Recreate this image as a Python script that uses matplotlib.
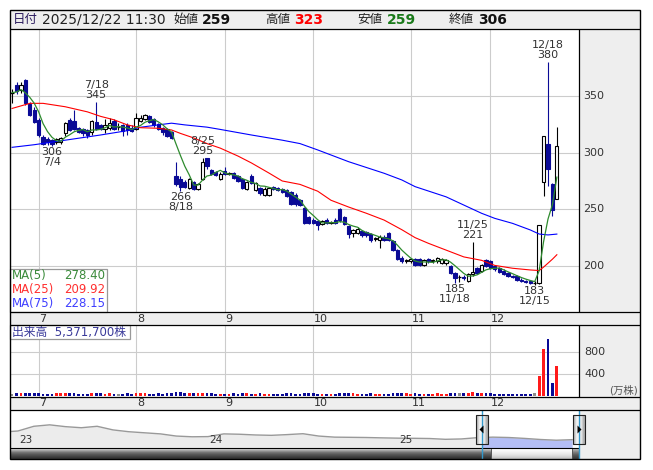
#!/usr/bin/env python3
"""Daily candlestick chart with moving averages, volume and navigator."""

import matplotlib

matplotlib.use("Agg")
import matplotlib.pyplot as plt
from matplotlib.patches import Rectangle, Polygon
from matplotlib.transforms import blended_transform_factory
import numpy as np
import pandas as pd

plt.rcParams["font.family"] = ["DejaVu Sans", "Noto Sans CJK JP"]

W, H = 653, 470

# --- data -------------------------------------------------------------------
START, END = "2025-06-23", "2025-12-22"
HOLIDAYS = ["2025-07-21", "2025-08-11", "2025-09-15", "2025-09-23",
            "2025-10-13", "2025-11-03", "2025-11-24"]

OPEN = [353, 360, 355, 364, 343, 338, 329, 314, 312, 311, 309, 309, 317, 329, 328, 322, 321, 320, 318, 327,
        324, 321, 322, 328, 323, 324, 324, 322, 321, 328, 330, 332, 330, 325, 322, 321, 318, 279, 277, 274,
        269, 274, 268, 277, 295, 285, 283, 277, 284, 281, 282, 279, 277, 268, 279, 267, 269, 263, 263, 270,
        269, 268, 267, 265, 263, 258, 251, 243, 241, 240, 237, 241, 238, 241, 250, 243, 235, 229, 229, 231,
        230, 228, 224, 223, 226, 229, 222, 214, 207, 204, 204, 206, 206, 201, 206, 204, 204, 203, 203, 200,
        194, 190, 190, 187, 193, 198, 196, 205, 204, 200, 198, 196, 194, 191, 191, 188, 187, 187, 185, 185,
        274, 308, 272, 259]
HIGH = [356, 362, 362, 365, 345, 340, 331, 316, 314, 312, 313, 314, 327, 331, 338, 323, 322, 321, 329, 345,
        325, 330, 331, 330, 326, 325, 326, 324, 335, 333, 334, 333, 331, 326, 323, 322, 319, 292, 279, 276,
        278, 275, 273, 295, 295, 286, 284, 283, 287, 283, 283, 280, 278, 275, 281, 274, 270, 270, 270, 271,
        270, 269, 268, 266, 264, 259, 252, 244, 242, 241, 241, 242, 240, 242, 251, 244, 236, 233, 234, 232,
        231, 229, 226, 227, 227, 230, 223, 215, 209, 206, 207, 207, 207, 206, 207, 206, 208, 207, 206, 201,
        195, 192, 192, 194, 221, 199, 202, 206, 205, 201, 199, 197, 195, 192, 192, 189, 188, 188, 187, 236,
        315, 380, 273, 323]
LOW = [344, 352, 353, 342, 332, 326, 314, 307, 307, 306, 308, 308, 315, 319, 320, 317, 315, 313, 316, 320,
       320, 317, 320, 320, 320, 315, 316, 318, 320, 327, 329, 326, 323, 320, 316, 314, 312, 271, 266, 269,
       268, 267, 267, 276, 286, 280, 279, 276, 280, 280, 277, 274, 268, 267, 272, 266, 263, 262, 262, 267,
       266, 264, 261, 254, 253, 253, 237, 237, 237, 232, 236, 237, 237, 237, 239, 236, 225, 226, 228, 226,
       226, 221, 222, 216, 222, 222, 213, 205, 203, 203, 203, 200, 200, 200, 203, 203, 203, 202, 201, 193,
       185, 186, 188, 186, 191, 193, 195, 199, 197, 196, 194, 192, 190, 189, 187, 186, 185, 184, 183, 184,
       262, 271, 244, 259]
CLOSE = [353, 354, 360, 344, 333, 327, 316, 308, 309, 308, 312, 313, 326, 320, 321, 318, 317, 316, 328, 321,
         321, 324, 326, 321, 323, 319, 320, 319, 331, 331, 333, 327, 324, 321, 318, 315, 313, 272, 270, 270,
         277, 268, 272, 292, 288, 281, 280, 281, 281, 282, 278, 275, 269, 274, 273, 273, 264, 268, 269, 268,
         267, 265, 262, 255, 255, 254, 238, 238, 238, 236, 240, 238, 239, 238, 241, 237, 228, 232, 233, 227,
         227, 223, 225, 226, 223, 223, 214, 206, 204, 205, 206, 201, 201, 205, 204, 205, 207, 206, 205, 194,
         189, 190, 189, 193, 195, 194, 201, 200, 198, 197, 195, 193, 191, 190, 188, 187, 186, 185, 185, 236,
         315, 286, 249, 306]
# volume in 万株 (10,000 shares)
VOLUME = [45, 52, 48, 55, 50, 47, 46, 44, 43, 45, 47, 46, 52, 48, 50, 45, 44, 43, 49, 55,
          46, 45, 47, 44, 43, 45, 46, 44, 50, 47, 46, 45, 44, 46, 45, 47, 48, 78, 72, 55,
          50, 48, 46, 60, 52, 46, 45, 44, 45, 44, 46, 45, 47, 46, 45, 44, 46, 45, 44, 45,
          43, 44, 46, 47, 45, 44, 50, 48, 46, 45, 44, 45, 44, 45, 52, 47, 50, 46, 45, 44,
          45, 46, 44, 45, 44, 45, 47, 50, 48, 46, 45, 46, 44, 45, 44, 45, 46, 44, 45, 50,
          55, 47, 46, 52, 78, 48, 47, 49, 46, 45, 44, 45, 44, 43, 44, 45, 44, 45, 50, 368,
          863, 1034, 240, 537.17]

MA25_DATES = ["06-23", "06-27", "07-02", "07-09", "07-16", "07-22", "07-25", "07-30", "08-04", "08-08",
              "08-14", "08-18", "08-21", "08-26", "08-29", "09-04", "09-09", "09-16", "09-19", "09-26",
              "10-02", "10-07", "10-14", "10-20", "10-24", "10-30", "11-05", "11-10", "11-14", "11-20",
              "11-27", "12-02", "12-08", "12-12", "12-16", "12-17", "12-18", "12-19", "12-22"]
MA25_VALUES = [339, 343.5, 343.5, 340.5, 336, 332, 329, 324.5, 322, 321.5,
               320, 317, 313, 308, 304, 297, 291, 282, 275, 272,
               266, 258, 252, 246.5, 240.5, 232, 225, 220, 214, 208,
               205, 200.5, 198, 196.5, 196, 199, 202.5, 206, 209.92]
MA75_DATES = ["06-23", "06-30", "07-09", "07-22", "07-30", "08-04", "08-08", "08-14", "08-19", "08-26",
              "08-29", "09-09", "09-19", "09-26", "10-02", "10-14", "10-24", "10-30", "11-05", "11-14",
              "11-27", "12-02", "12-08", "12-12", "12-16", "12-18", "12-22"]
MA75_VALUES = [304.7, 307, 311, 315.6, 319.4, 322.4, 324.5, 326, 324.5, 322.5,
               320.5, 315.6, 311, 308, 302.4, 292, 281.8, 275.9, 270, 261,
               246.5, 242, 237.6, 231.8, 228.2, 227.4, 228.15]

# high / low markers: (date, price, above?)
MARKS = [("7/18", 345, True), ("7/4", 306, False), ("8/25", 295, True), ("8/18", 266, False),
         ("11/25", 221, True), ("11/18", 185, False), ("12/15", 183, False), ("12/18", 380, True)]

MONTH_LABELS = ["7", "8", "9", "10", "11", "12"]
PRICE_TICKS = [200, 250, 300, 350]
VOLUME_TICKS = [400, 800]

NAV_MONTHS = ["2022-12", "2023-01", "2023-02", "2023-03", "2023-04", "2023-05", "2023-06", "2023-07",
              "2023-08", "2023-09", "2023-10", "2023-11", "2023-12", "2024-01", "2024-02", "2024-03",
              "2024-04", "2024-05", "2024-06", "2024-07", "2024-08", "2024-09", "2024-10", "2024-11",
              "2024-12", "2025-01", "2025-02", "2025-03", "2025-04", "2025-05", "2025-06", "2025-07",
              "2025-08", "2025-09", "2025-10", "2025-11", "2025-12"]
NAV_VALUES = [440, 470, 600, 640, 590, 560, 600, 500, 450, 420, 390, 330, 310, 315, 390, 380,
              360, 350, 370, 395, 330, 300, 295, 290, 280, 272, 268, 262, 240, 250, 285, 300,
              290, 265, 235, 215, 230]
NAV_YEARS = ["23", "24", "25"]

# --- colours ----------------------------------------------------------------
NAVY = "#0a0a96"
GRID = "#cccccc"
PANEL = "#eeeeee"
TXT = "#333333"

dates = pd.bdate_range(START, END)
dates = dates[~dates.isin(pd.to_datetime(HOLIDAYS))]
n = len(dates)
idx = np.arange(n)
date_pos = {d.strftime("%m-%d"): i for i, d in enumerate(dates)}
short_pos = {f"{d.month}/{d.day}": i for i, d in enumerate(dates)}
month_start = [int(np.argmax(dates.month == int(m))) for m in MONTH_LABELS]

ma5 = pd.Series(CLOSE, dtype=float).rolling(5, min_periods=1).mean().to_numpy()


def px_rect(x0, y0, x1, y1):
    return [x0 / W, 1 - y1 / H, (x1 - x0) / W, (y1 - y0) / H]


def bare(ax):
    for s in ax.spines.values():
        s.set_visible(False)
    ax.set_xticks([])
    ax.set_yticks([])


fig = plt.figure(figsize=(W / 100, H / 100), dpi=100, facecolor="white")

bg = fig.add_axes([0, 0, 1, 1], zorder=0)
bg.set_xlim(0, W)
bg.set_ylim(H, 0)
bg.axis("off")
for x0, y0, x1, y1 in [(10, 10, 640, 29), (579, 29, 640, 312), (10, 312, 640, 325),
                       (579, 325, 640, 397), (10, 397, 640, 410), (579, 410, 640, 459)]:
    bg.add_patch(Rectangle((x0, y0), x1 - x0, y1 - y0, facecolor=PANEL, edgecolor="none"))

XLIM = (-0.47, 128)

# --- price panel --------------------------------------------------------------
ax = fig.add_axes(px_rect(10, 29, 579, 312), zorder=2)
bare(ax)
ax.set_xlim(*XLIM)
ax.set_ylim(159.4, 409.1)
for p in PRICE_TICKS:
    ax.axhline(p, color=GRID, lw=0.8, zorder=1)
for m in month_start:
    ax.axvline(m, color=GRID, lw=0.8, zorder=1)

BODY = 0.74
for i in range(n):
    o, h, l, c = OPEN[i], HIGH[i], LOW[i], CLOSE[i]
    up = c >= o
    col = "black" if up else NAVY
    ax.vlines(i, l, h, color=col, lw=0.8, zorder=3)
    if c == o:
        ax.hlines(o, i - BODY / 2, i + BODY / 2, color="black", lw=0.9, zorder=4)
    else:
        ax.add_patch(Rectangle((i - BODY / 2, min(o, c)), BODY, abs(c - o),
                               facecolor="white" if up else NAVY, edgecolor=col, lw=0.8, zorder=4))

ax.plot([date_pos[d] for d in MA75_DATES], MA75_VALUES, color="#0000ff", lw=0.8, zorder=5)
ax.plot([date_pos[d] for d in MA25_DATES], MA25_VALUES, color="#ff0000", lw=0.8, zorder=5)
ax.plot(idx, ma5, color="#2e8b2e", lw=0.9, zorder=6)

for label, price, above in MARKS:
    i = short_pos[label]
    if above:
        ax.annotate(f"{label}\n{price}", xy=(i, price), xytext=(0, 2), textcoords="offset pixels",
                    ha="center", va="bottom", fontsize=8, color=TXT, linespacing=1.0, zorder=7)
    else:
        ax.annotate(f"{price}\n{label}", xy=(i, price), xytext=(0, -1), textcoords="offset pixels",
                    ha="center", va="top", fontsize=8, color=TXT, linespacing=1.0, zorder=7)

tr = blended_transform_factory(ax.transAxes, ax.transData)
for p in PRICE_TICKS:
    ax.text(1 + 4 / 569, p, str(p), transform=tr, ha="left", va="center", fontsize=8, color=TXT)
trx = blended_transform_factory(ax.transData, ax.transAxes)
for m, lab in zip(month_start, MONTH_LABELS):
    ax.text(m + 0.2, -6.5 / 283, lab, transform=trx, ha="left", va="center", fontsize=8,
            color=TXT, clip_on=False)

# --- volume panel -------------------------------------------------------------
av = fig.add_axes(px_rect(10, 325, 579, 397), zorder=2)
bare(av)
av.set_xlim(*XLIM)
av.set_ylim(-18, 1291)
for v in VOLUME_TICKS:
    av.axhline(v, color=GRID, lw=0.8, zorder=1)
for m in month_start:
    av.axvline(m, color=GRID, lw=0.8, zorder=1)
vol_colors = ["#ff1a1a" if c > o else (NAVY if c < o else "#8c8c8c") for o, c in zip(OPEN, CLOSE)]
av.bar(idx, VOLUME, width=0.62, color=vol_colors, zorder=3)
trv = blended_transform_factory(av.transAxes, av.transData)
for v in VOLUME_TICKS:
    av.text(1 + 5 / 569, v, str(v), transform=trv, ha="left", va="center", fontsize=8, color=TXT)
trvx = blended_transform_factory(av.transData, av.transAxes)
for m, lab in zip(month_start, MONTH_LABELS):
    av.text(m + 0.2, -6.5 / 72, lab, transform=trvx, ha="left", va="center", fontsize=8,
            color=TXT, clip_on=False)

# --- navigator ----------------------------------------------------------------
an = fig.add_axes(px_rect(10, 410, 579, 448), zorder=2)
bare(an)
t_nav = np.array([int(s[:4]) + (int(s[5:]) - 1) / 12 for s in NAV_MONTHS])
an.set_xlim(2022.958, 2025.953)
an.set_ylim(0, 1050)
an.fill_between(t_nav, NAV_VALUES, 0, color="#ececec", lw=0, zorder=1)
sel = an.fill_between(t_nav, NAV_VALUES, 0, color="#b4bef5", lw=0, zorder=2)
sel.set_clip_path(Rectangle((2025.442, 0), 1, 1050, transform=an.transData))
an.plot(t_nav, NAV_VALUES, color="#999999", lw=1.0, zorder=3)
trn = blended_transform_factory(an.transData, an.transAxes)
for y in NAV_YEARS:
    an.text(2000 + int(y) + 0.005, 0.2, y, transform=trn, ha="left", va="center",
            fontsize=7.5, color=TXT)

# --- foreground: frame, header, boxes, scrollbar --------------------------------
fg = fig.add_axes([0, 0, 1, 1], zorder=5)
fg.patch.set_alpha(0)
fg.axis("off")


def gradient(x0, y0, x1, y1, levels, horizontal=False):
    arr = np.array(levels, dtype=float)
    img = arr[None, :] if horizontal else arr[:, None]
    fg.imshow(img, cmap="gray", vmin=0, vmax=1, extent=(x0, x1, y1, y0), aspect="auto",
              interpolation="bilinear", zorder=2)


# scrollbar
gradient(10, 448, 491, 459, [0.85, 0.62, 0.45, 0.35, 0.27, 0.2])
gradient(572, 448, 579, 459, [0.7, 0.5, 0.35, 0.25])
gradient(491, 448, 572, 459, [1.0, 0.96, 0.92, 0.86, 0.78])
fg.add_patch(Rectangle((491, 448), 81, 11, facecolor="none", edgecolor="#555555", lw=0.7, zorder=3))
fg.hlines(448, 10, 579, color="black", lw=0.8, zorder=3)

# range lines and handles
fg.vlines([482, 579], 410, 459, color="#3399cc", lw=1.0, zorder=3)
for hx, tri in [(476, [(479.5, 429.5), (483.5, 425.5), (483.5, 433.5)]),
                (573, [(581.5, 429.5), (577.5, 425.5), (577.5, 433.5)])]:
    gradient(hx, 415, hx + 12, 444, [0.72, 0.93, 0.98, 0.9, 0.68], horizontal=True)
    fg.add_patch(Rectangle((hx, 415), 12, 29, facecolor="none", edgecolor="#222222", lw=0.8, zorder=4))
    fg.add_patch(Polygon(tri, closed=True, facecolor="black", edgecolor="none", zorder=5))

# frame lines
fg.add_patch(Rectangle((10, 10), 630, 449, facecolor="none", edgecolor="black", lw=1.0, zorder=6))
fg.hlines([29, 312, 325, 397, 410], 10, 640, color="black", lw=0.9, zorder=6)
fg.vlines(579, 29, 312, color="black", lw=0.9, zorder=6)
fg.vlines(579, 325, 397, color="black", lw=0.9, zorder=6)

# MA legend
fg.add_patch(Rectangle((10, 269), 97, 43, facecolor="white", edgecolor="#999999", lw=0.9, zorder=4))
ma_rows = [("MA(5)", f"{ma5[-1]:.2f}", "#3a8a3a", 275.5),
           ("MA(25)", f"{MA25_VALUES[-1]:.2f}", "#ff3030", 289.5),
           ("MA(75)", f"{MA75_VALUES[-1]:.2f}", "#4040ff", 303.5)]
for name, val, col, y in ma_rows:
    fg.text(12, y, name, ha="left", va="center", fontsize=8.5, color=col, zorder=5)
    fg.text(105.5, y, val, ha="right", va="center", fontsize=8.5, color=col, zorder=5)

# volume label
fg.add_patch(Rectangle((10, 325), 120, 14, facecolor="white", edgecolor="#999999", lw=0.9, zorder=4))
fg.text(12, 332.5, f"出来高  {round(VOLUME[-1] * 10000):,}株", ha="left", va="center", fontsize=8.5,
        color="#3a3a9a", zorder=5)
fg.text(624, 390, "(万株)", ha="center", va="center", fontsize=7.5, color="#555555", zorder=5)

# header
hy = 19.5
fg.text(13, hy, "日付", ha="left", va="center", fontsize=9, color="#2a1a5e", zorder=5)
fg.text(42, hy, dates[-1].strftime("%Y/%m/%d") + " 11:30", ha="left", va="center", fontsize=10,
        color="#222222", zorder=5)
for x, lab, val, col in [(173, "始値", OPEN[-1], "#111111"), (265, "高値", HIGH[-1], "#ff0000"),
                         (357.5, "安値", LOW[-1], "#1a7a1a"), (449, "終値", CLOSE[-1], "#111111")]:
    fg.text(x, hy, lab, ha="left", va="center", fontsize=9, color="#222222", zorder=5)
    fg.text(x + 29, hy, str(val), ha="left", va="center", fontsize=10, fontweight="bold",
            color=col, zorder=5)

fg.set_xlim(0, W)
fg.set_ylim(H, 0)

fig.savefig("out.png", dpi=100)
